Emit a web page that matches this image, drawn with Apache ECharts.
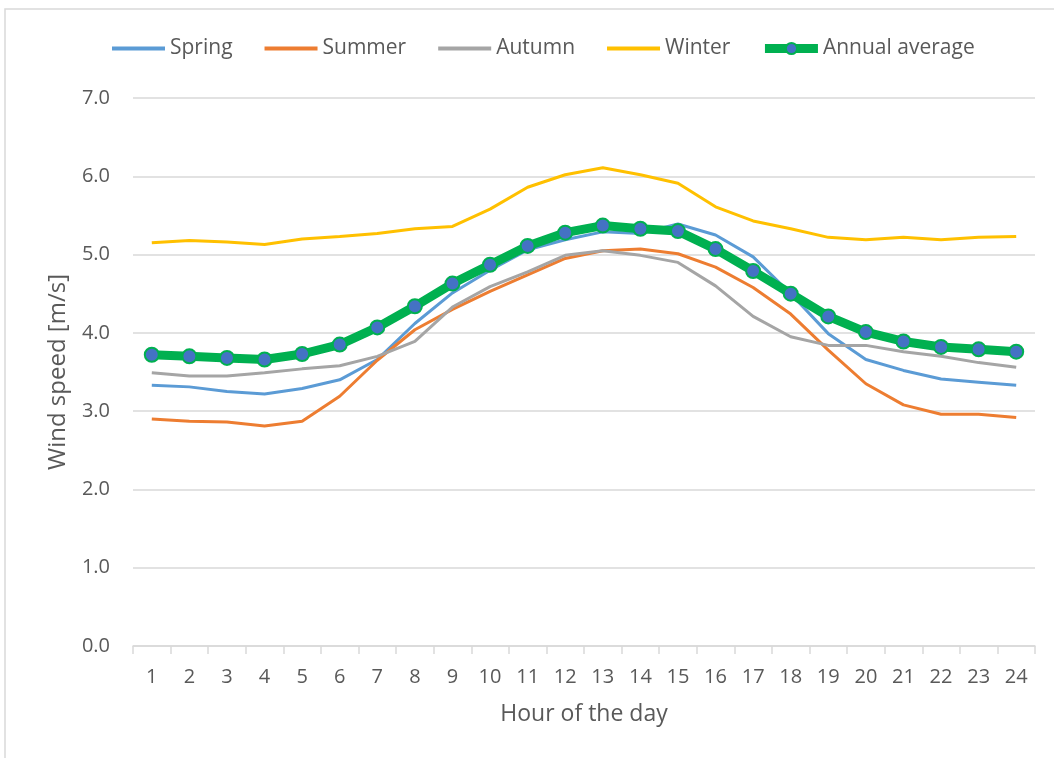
<!DOCTYPE html>
<html>
<head>
<meta charset="utf-8">
<script src="https://cdn.jsdelivr.net/npm/echarts@6/dist/echarts.min.js"></script>
<style>
html,body{margin:0;padding:0;background:#fff;}
#chart{width:1054px;height:758px;}
</style>
</head>
<body>
<div id="chart"></div>
<script>
const hours = ['1','2','3','4','5','6','7','8','9','10','11','12','13','14','15','16','17','18','19','20','21','22','23','24'];
const spring = [3.33,3.31,3.25,3.22,3.29,3.40,3.66,4.12,4.51,4.80,5.06,5.19,5.29,5.27,5.39,5.25,4.97,4.50,3.99,3.66,3.52,3.41,3.37,3.33];
const summer = [2.90,2.87,2.86,2.81,2.87,3.19,3.65,4.04,4.30,4.53,4.74,4.95,5.05,5.07,5.01,4.84,4.58,4.24,3.78,3.35,3.08,2.96,2.96,2.92];
const autumn = [3.49,3.45,3.45,3.49,3.54,3.58,3.70,3.89,4.33,4.59,4.78,4.99,5.05,4.99,4.90,4.60,4.21,3.95,3.84,3.84,3.76,3.70,3.62,3.56];
const winter = [5.15,5.18,5.16,5.13,5.20,5.23,5.27,5.33,5.36,5.58,5.86,6.02,6.11,6.02,5.91,5.61,5.43,5.33,5.22,5.19,5.22,5.19,5.22,5.23];
const annual = [3.72,3.70,3.68,3.66,3.73,3.85,4.07,4.34,4.63,4.87,5.11,5.28,5.37,5.33,5.30,5.07,4.79,4.50,4.21,4.01,3.89,3.82,3.79,3.76];
const seriesNames = ['Spring','Summer','Autumn','Winter','Annual average'];
const yTicks = {min:0, max:7, interval:1};

const FONT = '"Open Sans", sans-serif';
const TXT = '#595959';
const chart = echarts.init(document.getElementById('chart'), null, {renderer:'canvas'});

function lineSeries(name, data, color){
  return {name, type:'line', data, symbol:'none', showSymbol:false,
    lineStyle:{color, width:3}, itemStyle:{color}, z:2, animation:false};
}

const legendData = seriesNames.map((n, i) => i < 4
  ? {name:n, itemStyle:{color:'rgba(0,0,0,0)', opacity:0, borderWidth:0}, lineStyle:{width:4}}
  : {name:n, lineStyle:{width:9}});

chart.setOption({
  animation:false,
  backgroundColor:'#fff',
  graphic:[{type:'rect', shape:{x:5, y:9, width:1100, height:800},
    style:{fill:'none', stroke:'#D9D9D9', lineWidth:1.5}, silent:true, z:-1}],
  legend:{
    top:38, left:110, padding:0, itemWidth:53, itemHeight:14, itemGap:30,
    textStyle:{fontFamily:FONT, fontSize:21, color:TXT},
    data:legendData
  },
  grid:{left:133, right:19, top:98, bottom:112, containLabel:false},
  xAxis:{
    type:'category', data:hours, boundaryGap:true,
    name:'Hour of the day', nameLocation:'middle', nameGap:57,
    nameTextStyle:{fontFamily:FONT, fontSize:23, color:TXT},
    axisLine:{lineStyle:{color:'#D9D9D9', width:1.5}},
    axisTick:{show:true, length:8, lineStyle:{color:'#D9D9D9', width:1.5}},
    axisLabel:{fontFamily:FONT, fontSize:20, color:TXT, margin:21},
    splitLine:{show:false}
  },
  yAxis:{
    type:'value', min:yTicks.min, max:yTicks.max, interval:yTicks.interval,
    name:'Wind speed [m/s]', nameLocation:'middle', nameGap:63, nameRotate:90,
    nameTextStyle:{fontFamily:FONT, fontSize:24, color:TXT},
    axisLine:{show:false}, axisTick:{show:false},
    axisLabel:{fontFamily:FONT, fontSize:20, color:TXT, margin:23,
      formatter:v=>v.toFixed(1)},
    splitLine:{lineStyle:{color:'#D9D9D9', width:1.5}}
  },
  series:[
    lineSeries('Spring', spring, '#5B9BD5'),
    lineSeries('Summer', summer, '#ED7D31'),
    lineSeries('Autumn', autumn, '#A5A5A5'),
    lineSeries('Winter', winter, '#FFC000'),
    {name:'Annual average', type:'line', data:annual, symbol:'circle', symbolSize:14,
      showSymbol:true, lineStyle:{color:'#00B050', width:9},
      itemStyle:{color:'#4472C4', borderColor:'#00B050', borderWidth:2}, z:5}
  ]
});
</script>
</body>
</html>
